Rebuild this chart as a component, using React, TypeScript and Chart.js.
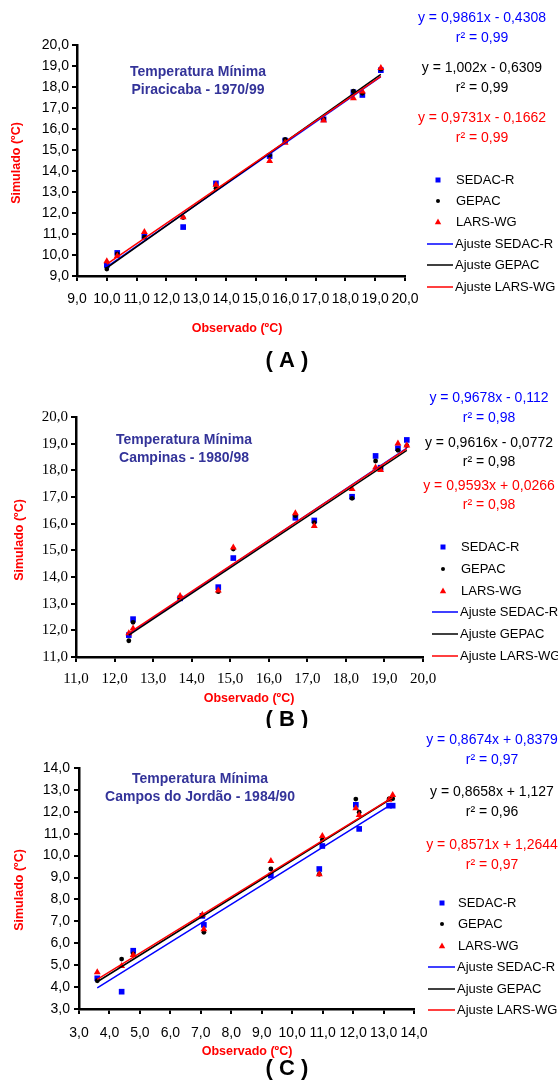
import { useEffect, useRef } from 'react';
import { Chart, registerables } from 'chart.js';

Chart.register(...registerables);

// ---------- DATA ----------
// (A) Piracicaba 1970/99
const piraObserved = [10.0, 10.35, 11.26, 12.56, 13.66, 15.46, 15.98, 17.27, 18.27, 18.57, 19.19];
const piraSedac = [9.52, 10.1, 10.87, 11.33, 13.41, 14.71, 15.45, 16.46, 17.75, 17.62, 18.8];
const piraGepac = [9.33, 10.05, 10.85, 11.78, 13.17, 14.75, 15.5, 16.48, 17.8, 17.7, 18.85];
const piraLars = [9.7, 9.95, 11.1, 11.8, 13.35, 14.48, 15.35, 16.4, 17.46, 17.78, 18.9];
const piraSlopes = [0.9861, 1.002, 0.9731];
const piraIntercepts = [-0.4308, -0.6309, -0.1662];
const piraEquations = ['y = 0,9861x - 0,4308', 'y = 1,002x - 0,6309', 'y = 0,9731x - 0,1662'];
const piraR2 = ['r² = 0,99', 'r² = 0,99', 'r² = 0,99'];

// (B) Campinas 1980/98
const campObserved = [12.37, 12.48, 13.7, 14.69, 15.08, 16.69, 17.18, 18.16, 18.77, 18.9, 19.35, 19.58];
const campSedac = [11.82, 12.42, 13.2, 13.62, 14.71, 16.22, 16.12, 17.01, 18.54, 18.1, 18.83, 19.14];
const campGepac = [11.61, 12.3, 13.2, 13.45, 15.05, 16.3, 16.04, 16.95, 18.35, 18.1, 18.75, 18.93];
const campLars = [11.89, 12.07, 13.29, 13.49, 15.11, 16.39, 15.91, 17.3, 18.11, 18.01, 19.01, 18.93];
const campSlopes = [0.9678, 0.9616, 0.9593];
const campIntercepts = [-0.112, -0.0772, 0.0266];
const campEquations = ['y = 0,9678x - 0,112', 'y = 0,9616x - 0,0772', 'y = 0,9593x + 0,0266'];
const campR2 = ['r² = 0,98', 'r² = 0,98', 'r² = 0,98'];

// (C) Campos do Jordão 1984/90
const cjObserved = [3.6, 4.4, 4.78, 7.05, 7.1, 9.3, 10.89, 10.99, 12.09, 12.2, 13.18, 13.3];
const cjSedac = [4.4, 3.79, 5.66, 7.25, 6.84, 9.09, 9.39, 10.44, 12.32, 11.22, 12.28, 12.28];
const cjGepac = [4.29, 5.28, 5.51, 7.28, 6.5, 9.39, 9.15, 10.72, 12.58, 11.98, 12.59, 12.6];
const cjLars = [4.68, 4.96, 5.47, 7.3, 6.64, 9.76, 9.15, 10.9, 12.16, 11.86, 12.55, 12.77];
const cjSlopes = [0.8674, 0.8658, 0.8571];
const cjIntercepts = [0.8379, 1.127, 1.2644];
const cjEquations = ['y = 0,8674x + 0,8379', 'y = 0,8658x + 1,127', 'y = 0,8571x + 1,2644'];
const cjR2 = ['r² = 0,97', 'r² = 0,96', 'r² = 0,97'];

const seriesNames = ['SEDAC-R', 'GEPAC', 'LARS-WG'];
const fitNames = ['Ajuste SEDAC-R', 'Ajuste GEPAC', 'Ajuste LARS-WG'];
const xAxisTitle = 'Observado (ºC)';
const yAxisTitle = 'Simulado (ºC)';
const titleLine1 = 'Temperatura Mínima';

// ---------- STYLE ----------
const COLORS = ['#0000FF', '#000000', '#FF0000'];
const TITLE_COLOR = '#333399';
const SANS = '"Liberation Sans", Arial, sans-serif';
const SERIF = '"Liberation Serif", "Times New Roman", serif';
const W = 558;

type PanelDef = {
  top: number;
  height: number;
  area: { left: number; right: number; top: number; bottom: number };
  xMin: number; xMax: number; yMin: number; yMax: number;
  tickFont: string; tickSize: number;
  observed: number[]; sims: number[][];
  slopes: number[]; intercepts: number[];
  equations: string[]; r2: string[];
  title2: string; letter: string;
  titleX: number; titleY: [number, number];
  eqX: number; eqY: number[];
  legX: number; legTextX: number; legLine: [number, number]; legY: number[];
  xTitle: [number, number]; yTitle: [number, number]; letterPos: [number, number];
  xPad: number; yPad: number;
};

const panels: PanelDef[] = [
  {
    top: 0, height: 375,
    area: { left: 77, right: 405, top: 45, bottom: 276 },
    xMin: 9, xMax: 20, yMin: 9, yMax: 20,
    tickFont: SANS, tickSize: 14,
    observed: piraObserved, sims: [piraSedac, piraGepac, piraLars],
    slopes: piraSlopes, intercepts: piraIntercepts,
    equations: piraEquations, r2: piraR2,
    title2: 'Piracicaba - 1970/99', letter: '( A )',
    titleX: 198, titleY: [72, 90],
    eqX: 482, eqY: [18, 38, 68, 88, 118, 138],
    legX: 438, legTextX: 456, legLine: [427, 453], legY: [180, 201, 222, 244, 265, 287],
    xTitle: [237, 329], yTitle: [17, 163], letterPos: [287, 361],
    xPad: 10, yPad: 3,
  },
  {
    top: 375, height: 353,
    area: { left: 76, right: 423, top: 42, bottom: 282 },
    xMin: 11, xMax: 20, yMin: 11, yMax: 20,
    tickFont: SERIF, tickSize: 15,
    observed: campObserved, sims: [campSedac, campGepac, campLars],
    slopes: campSlopes, intercepts: campIntercepts,
    equations: campEquations, r2: campR2,
    title2: 'Campinas - 1980/98', letter: '( B )',
    titleX: 184, titleY: [65, 83],
    eqX: 489, eqY: [23, 43, 68, 87, 111, 130],
    legX: 443, legTextX: 461, legLine: [432, 458], legY: [172, 194, 216, 237, 259, 281],
    xTitle: [249, 324], yTitle: [20, 165], letterPos: [287, 345],
    xPad: 8, yPad: 3,
  },
  {
    top: 728, height: 353,
    area: { left: 79, right: 414, top: 40, bottom: 281 },
    xMin: 3, xMax: 14, yMin: 3, yMax: 14,
    tickFont: SANS, tickSize: 14,
    observed: cjObserved, sims: [cjSedac, cjGepac, cjLars],
    slopes: cjSlopes, intercepts: cjIntercepts,
    equations: cjEquations, r2: cjR2,
    title2: 'Campos do Jordão - 1984/90', letter: '( C )',
    titleX: 200, titleY: [51, 69],
    eqX: 492, eqY: [12, 32, 64, 84, 117, 137],
    legX: 442, legTextX: 458, legLine: [428, 455], legY: [175, 196, 218, 239, 261, 282],
    xTitle: [247, 324], yTitle: [20, 162], letterPos: [287, 341],
    xPad: 11, yPad: 4,
  },
];

const fmt = (v: number | string) => Number(v).toFixed(1).replace('.', ',');

function drawMarker(ctx: CanvasRenderingContext2D, kind: number, x: number, y: number) {
  ctx.fillStyle = COLORS[kind];
  ctx.beginPath();
  if (kind === 0) {
    ctx.rect(x - 2.5, y - 2.5, 5, 5);
  } else if (kind === 1) {
    ctx.arc(x, y, 2, 0, Math.PI * 2);
  } else {
    ctx.moveTo(x, y - 3.5);
    ctx.lineTo(x + 3.2, y + 2.2);
    ctx.lineTo(x - 3.2, y + 2.2);
    ctx.closePath();
  }
  ctx.fill();
}

function makeTextPlugin(p: PanelDef) {
  return {
    id: 'panelTexts',
    afterDraw(chart: Chart) {
      const ctx = chart.ctx;
      ctx.save();
      ctx.textBaseline = 'middle';
      // title
      ctx.textAlign = 'center';
      ctx.fillStyle = TITLE_COLOR;
      ctx.font = `bold 14px ${SANS}`;
      ctx.fillText(titleLine1, p.titleX, p.titleY[0]);
      ctx.fillText(p.title2, p.titleX, p.titleY[1]);
      // equations
      ctx.font = `14px ${SANS}`;
      for (let i = 0; i < 3; i++) {
        ctx.fillStyle = COLORS[i];
        ctx.fillText(p.equations[i], p.eqX, p.eqY[i * 2]);
        ctx.fillText(p.r2[i], p.eqX, p.eqY[i * 2 + 1]);
      }
      // legend
      ctx.font = `13px ${SANS}`;
      ctx.textAlign = 'left';
      for (let i = 0; i < 3; i++) {
        drawMarker(ctx, i, p.legX, p.legY[i]);
        ctx.fillStyle = '#000';
        ctx.fillText(seriesNames[i], p.legTextX, p.legY[i]);
      }
      for (let i = 0; i < 3; i++) {
        const y = p.legY[i + 3];
        ctx.strokeStyle = COLORS[i];
        ctx.lineWidth = 1.5;
        ctx.beginPath();
        ctx.moveTo(p.legLine[0], y);
        ctx.lineTo(p.legLine[1], y);
        ctx.stroke();
        ctx.fillStyle = '#000';
        ctx.fillText(fitNames[i], p.legLine[1] + 2, y);
      }
      // axis titles
      ctx.fillStyle = '#FF0000';
      ctx.font = `bold 12.5px ${SANS}`;
      ctx.textAlign = 'center';
      ctx.fillText(xAxisTitle, p.xTitle[0], p.xTitle[1]);
      ctx.save();
      ctx.translate(p.yTitle[0], p.yTitle[1]);
      ctx.rotate(-Math.PI / 2);
      ctx.fillText(yAxisTitle, 0, 0);
      ctx.restore();
      // panel letter
      ctx.fillStyle = '#000';
      ctx.font = `bold 22px ${SANS}`;
      ctx.fillText(p.letter, p.letterPos[0], p.letterPos[1]);
      ctx.restore();
    },
  };
}

function buildConfig(p: PanelDef): any {
  const styles = ['rect', 'circle', 'triangle'];
  const radii = [4, 2.4, 4];
  const scatterSets = p.sims.map((ys, i) => ({
    type: 'scatter',
    label: seriesNames[i],
    data: p.observed.map((x, j) => ({ x, y: ys[j] })),
    backgroundColor: COLORS[i],
    borderColor: COLORS[i],
    pointStyle: styles[i],
    pointRadius: radii[i],
    pointBorderWidth: 0,
    showLine: false,
    order: 6 - i,
  }));
  const x0 = Math.min(...p.observed);
  const x1 = Math.max(...p.observed);
  const fitSets = p.slopes.map((a, i) => ({
    type: 'scatter',
    label: fitNames[i],
    data: [
      { x: x0, y: a * x0 + p.intercepts[i] },
      { x: x1, y: a * x1 + p.intercepts[i] },
    ],
    borderColor: COLORS[i],
    backgroundColor: COLORS[i],
    borderWidth: 1.5,
    pointRadius: 0,
    showLine: true,
    fill: false,
    order: 3 - i,
  }));
  const tickFont = { family: p.tickFont, size: p.tickSize };
  return {
    type: 'scatter',
    data: { datasets: [...scatterSets, ...fitSets] },
    options: {
      animation: false,
      responsive: false,
      events: [],
      layout: {
        padding: { left: 0, top: p.area.top, right: W - p.area.right, bottom: 0 },
      },
      plugins: { legend: { display: false }, tooltip: { enabled: false }, title: { display: false } },
      scales: {
        x: {
          type: 'linear',
          min: p.xMin,
          max: p.xMax,
          ticks: { stepSize: 1, autoSkip: false, maxRotation: 0, color: '#000', font: tickFont, padding: p.xPad, callback: fmt },
          grid: { drawOnChartArea: false, drawTicks: true, tickLength: 5, color: '#000', lineWidth: 2 },
          border: { display: true, color: '#000', width: 2.5 },
          afterFit: (s: any) => { s.height = p.height - p.area.bottom; },
        },
        y: {
          type: 'linear',
          min: p.yMin,
          max: p.yMax,
          ticks: { stepSize: 1, autoSkip: false, color: '#000', font: tickFont, padding: p.yPad, callback: fmt },
          grid: { drawOnChartArea: false, drawTicks: true, tickLength: 5, color: '#000', lineWidth: 2 },
          border: { display: true, color: '#000', width: 2.5 },
          afterFit: (s: any) => { s.width = p.area.left; },
        },
      },
    },
    plugins: [makeTextPlugin(p)],
  };
}

function PanelChart({ panel }: { panel: PanelDef }) {
  const ref = useRef<HTMLCanvasElement>(null);
  useEffect(() => {
    if (!ref.current) return;
    const chart = new Chart(ref.current, buildConfig(panel));
    return () => chart.destroy();
  }, [panel]);
  return (
    <canvas
      ref={ref}
      width={W}
      height={panel.height}
      style={{ position: 'absolute', left: 0, top: panel.top, width: W, height: panel.height, display: 'block' }}
    />
  );
}

export default function App() {
  return (
    <div style={{ position: 'absolute', left: 0, top: 0, width: W, height: 1081, background: '#fff', overflow: 'hidden' }}>
      {panels.map((p) => (
        <PanelChart key={p.letter} panel={p} />
      ))}
    </div>
  );
}
